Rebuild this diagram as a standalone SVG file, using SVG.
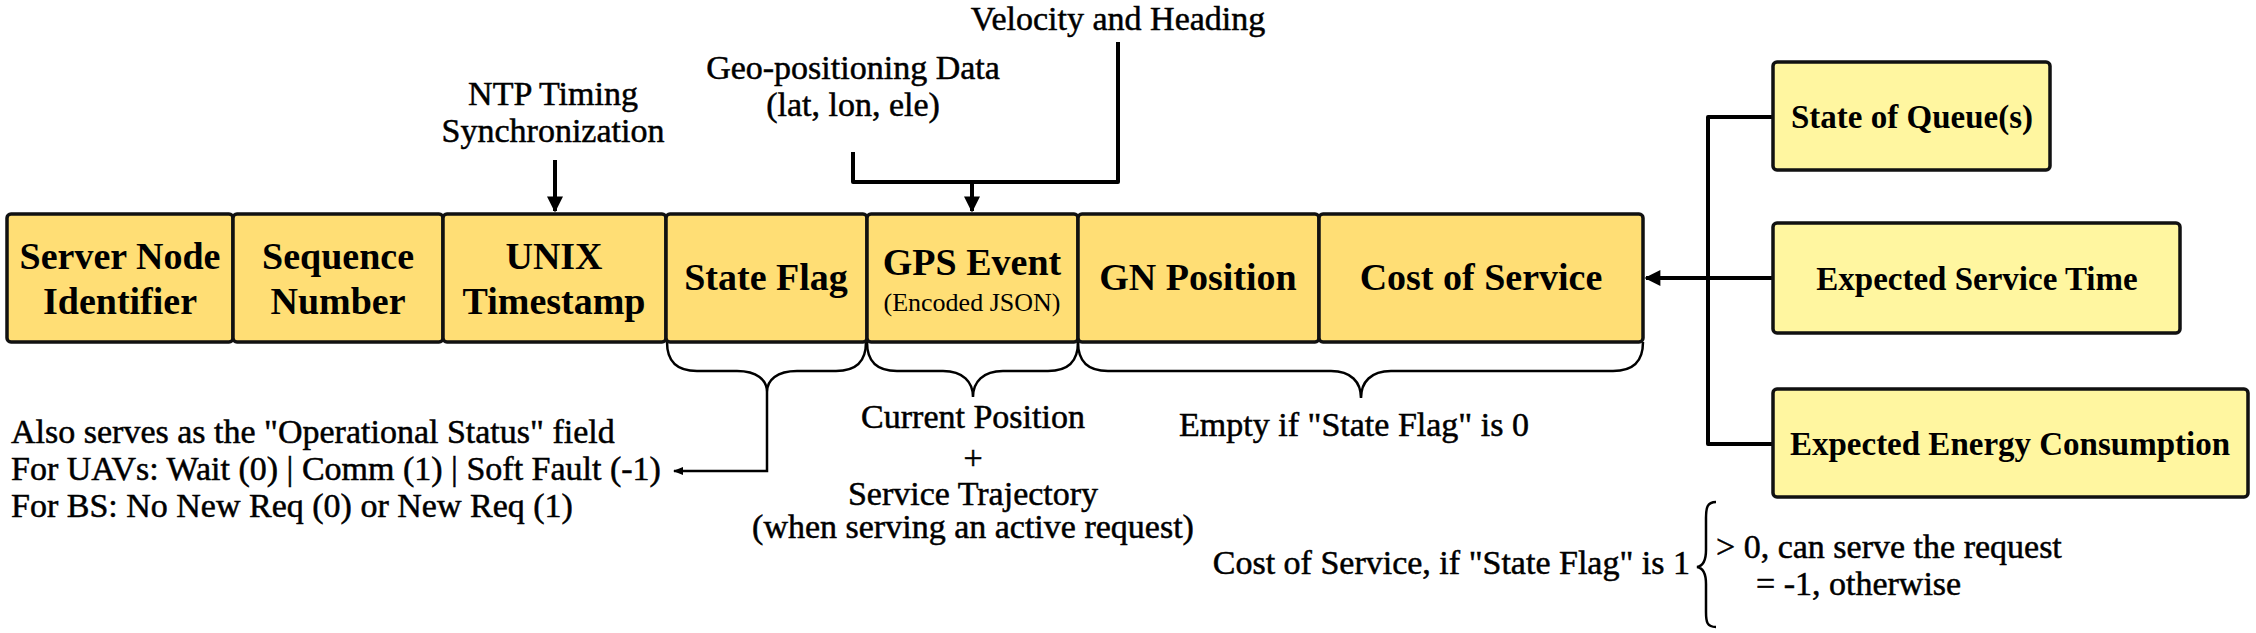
<svg xmlns="http://www.w3.org/2000/svg" width="2256" height="633" viewBox="0 0 2256 633">
<style>
text{font-family:"Liberation Serif","Times New Roman",serif;fill:#000}
.bl{font-weight:bold;font-size:38px;text-anchor:middle}
.rl{font-weight:bold;font-size:33px;text-anchor:middle}
.an{font-size:34px;stroke:#000;stroke-width:0.5}
.mid{text-anchor:middle}
.main{fill:#FFDE75;stroke:#111;stroke-width:3.5}
.side{fill:#FFF6A0;stroke:#111;stroke-width:3.5}
.ln{fill:none;stroke:#000;stroke-width:4;stroke-linejoin:round}
.th{fill:none;stroke:#000;stroke-width:2.5}
</style>
<defs>
<marker id="ah" viewBox="0 0 10 10" refX="9" refY="5" markerWidth="4.5" markerHeight="4" orient="auto" markerUnits="strokeWidth">
<path d="M0,0 L10,5 L0,10 z" fill="#000"/>
</marker>
<marker id="ahs" viewBox="0 0 10 10" refX="9" refY="5" markerWidth="6" markerHeight="4" orient="auto" markerUnits="strokeWidth">
<path d="M0,1 L10,5 L0,9 z" fill="#000"/>
</marker>
</defs>

<g id="connectors">
<line class="ln" x1="555" y1="160" x2="555" y2="211" stroke-width="3.5" marker-end="url(#ah)"/>
<path class="ln" d="M853,152 V182 H1118 V42"/>
<line class="ln" x1="972" y1="182" x2="972" y2="211" stroke-width="3.5" marker-end="url(#ah)"/>
<path class="ln" d="M1773,117 H1708 V444 H1773"/>
<line class="ln" x1="1773" y1="278" x2="1646" y2="278" marker-end="url(#ah)"/>
<path class="th" d="M767,392 V471 H674" marker-end="url(#ahs)"/>
</g>

<g id="braces">
<path class="th" d="M667,342 C667,362 677,371 697,371 L737,371 C757,371 767,380 767,392 C767,380 777,371 797,371 L836,371 C856,371 866,362 866,342"/>
<path class="th" d="M867,342 C867,362 877,371 897,371 L943,371 C963,371 973,382 973,397 C973,382 983,371 1003,371 L1048,371 C1068,371 1078,362 1078,342"/>
<path class="th" d="M1078,342 C1078,362 1088,371 1108,371 L1331,371 C1351,371 1361,382 1361,398 C1361,382 1371,371 1391,371 L1613,371 C1633,371 1643,362 1643,342"/>
<path class="th" d="M1716,502 C1707,502 1706,508 1706,518 V550 C1706,561 1703,566 1697,567 C1703,568 1706,573 1706,584 V612 C1706,622 1707,627 1716,627" stroke-width="2"/>
</g>

<g id="n-server"><rect class="main" x="7" y="214" width="226" height="128" rx="4"/><text class="bl" x="120" y="269">Server Node</text><text class="bl" x="120" y="314">Identifier</text></g>
<g id="n-seq"><rect class="main" x="233" y="214" width="210" height="128" rx="4"/><text class="bl" x="338" y="269">Sequence</text><text class="bl" x="338" y="314">Number</text></g>
<g id="n-unix"><rect class="main" x="443" y="214" width="223" height="128" rx="4"/><text class="bl" x="554" y="269">UNIX</text><text class="bl" x="554" y="314">Timestamp</text></g>
<g id="n-state"><rect class="main" x="666" y="214" width="201" height="128" rx="4"/><text class="bl" x="766" y="290">State Flag</text></g>
<g id="n-gps"><rect class="main" x="867" y="214" width="211" height="128" rx="4"/><text class="bl" x="972" y="275">GPS Event</text><text x="972" y="311" class="mid" font-size="26">(Encoded JSON)</text></g>
<g id="n-gn"><rect class="main" x="1078" y="214" width="241" height="128" rx="4"/><text class="bl" x="1198" y="290">GN Position</text></g>
<g id="n-cost"><rect class="main" x="1319" y="214" width="324" height="128" rx="4"/><text class="bl" x="1481" y="290">Cost of Service</text></g>

<g id="n-queue"><rect class="side" x="1773" y="62" width="277" height="108" rx="4"/><text class="rl" x="1912" y="128">State of Queue(s)</text></g>
<g id="n-time"><rect class="side" x="1773" y="223" width="407" height="110" rx="4"/><text class="rl" x="1977" y="290">Expected Service Time</text></g>
<g id="n-energy"><rect class="side" x="1773" y="389" width="475" height="108" rx="4"/><text class="rl" x="2010" y="455">Expected Energy Consumption</text></g>

<g id="labels">
<text class="an mid" x="1118" y="30" font-size="35">Velocity and Heading</text>
<text class="an mid" x="853" y="79">Geo-positioning Data</text>
<text class="an mid" x="853" y="116">(lat, lon, ele)</text>
<text class="an mid" x="553" y="105">NTP Timing</text>
<text class="an mid" x="553" y="142">Synchronization</text>
<text class="an" x="11" y="443">Also serves as the "Operational Status" field</text>
<text class="an" x="11" y="480">For UAVs: Wait (0) | Comm (1) | Soft Fault (-1)</text>
<text class="an" x="11" y="517">For BS: No New Req (0) or New Req (1)</text>
<text class="an mid" x="973" y="428">Current Position</text>
<text class="an mid" x="973" y="469" font-size="30">+</text>
<text class="an mid" x="973" y="505">Service Trajectory</text>
<text class="an mid" x="973" y="538" font-size="26" stroke-width="0.4">(when serving an active request)</text>
<text class="an mid" x="1354" y="436">Empty if "State Flag" is 0</text>
<text class="an" x="1690" y="574" text-anchor="end" font-size="35">Cost of Service, if "State Flag" is 1</text>
<text class="an" x="1716" y="558">&gt; 0, can serve the request</text>
<text class="an" x="1756" y="595">= -1, otherwise</text>
</g>
</svg>
